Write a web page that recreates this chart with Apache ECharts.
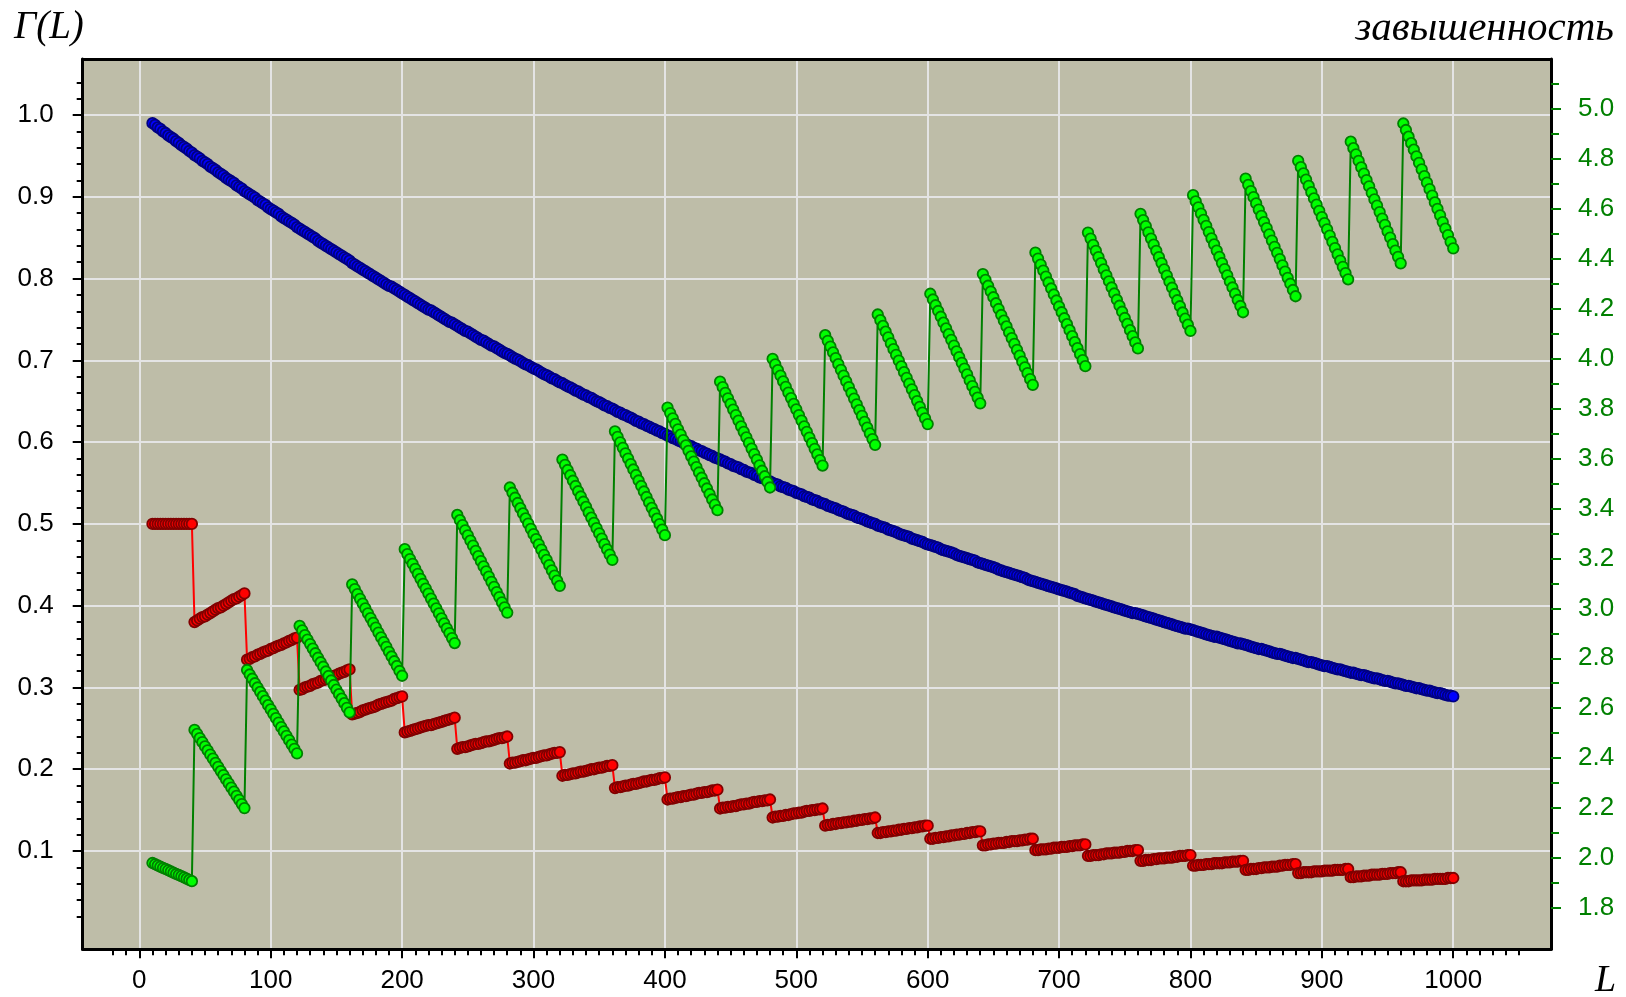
<!DOCTYPE html>
<html><head><meta charset="utf-8">
<script src="https://cdn.jsdelivr.net/npm/echarts@6/dist/echarts.min.js"></script>
<style>html,body{margin:0;padding:0;background:#fff}#c{width:1626px;height:997px}</style>
</head><body><div id="c"></div><script>
// L values (sample positions)
const L = [10,12,14,16,18,20,22,24,26,28,30,32,34,36,38,40,
42,44,46,48,50,52,54,56,58,60,62,64,66,68,70,72,74,76,78,80,
82,84,86,88,90,92,94,96,98,100,102,104,106,108,110,112,114,116,118,120,
122,124,126,128,130,132,134,136,138,140,142,144,146,148,150,152,154,156,158,160,
162,164,166,168,170,172,174,176,178,180,182,184,186,188,190,192,194,196,198,200,
202,204,206,208,210,212,214,216,218,220,222,224,226,228,230,232,234,236,238,240,
242,244,246,248,250,252,254,256,258,260,262,264,266,268,270,272,274,276,278,280,
282,284,286,288,290,292,294,296,298,300,302,304,306,308,310,312,314,316,318,320,
322,324,326,328,330,332,334,336,338,340,342,344,346,348,350,352,354,356,358,360,
362,364,366,368,370,372,374,376,378,380,382,384,386,388,390,392,394,396,398,400,
402,404,406,408,410,412,414,416,418,420,422,424,426,428,430,432,434,436,438,440,
442,444,446,448,450,452,454,456,458,460,462,464,466,468,470,472,474,476,478,480,
482,484,486,488,490,492,494,496,498,500,502,504,506,508,510,512,514,516,518,520,
522,524,526,528,530,532,534,536,538,540,542,544,546,548,550,552,554,556,558,560,
562,564,566,568,570,572,574,576,578,580,582,584,586,588,590,592,594,596,598,600,
602,604,606,608,610,612,614,616,618,620,622,624,626,628,630,632,634,636,638,640,
642,644,646,648,650,652,654,656,658,660,662,664,666,668,670,672,674,676,678,680,
682,684,686,688,690,692,694,696,698,700,702,704,706,708,710,712,714,716,718,720,
722,724,726,728,730,732,734,736,738,740,742,744,746,748,750,752,754,756,758,760,
762,764,766,768,770,772,774,776,778,780,782,784,786,788,790,792,794,796,798,800,
802,804,806,808,810,812,814,816,818,820,822,824,826,828,830,832,834,836,838,840,
842,844,846,848,850,852,854,856,858,860,862,864,866,868,870,872,874,876,878,880,
882,884,886,888,890,892,894,896,898,900,902,904,906,908,910,912,914,916,918,920,
922,924,926,928,930,932,934,936,938,940,942,944,946,948,950,952,954,956,958,960,
962,964,966,968,970,972,974,976,978,980,982,984,986,988,990,992,994,996,998,1000];

// Γ(L) - blue, left axis
const gammaL = [.990,.988,.985,.983,.980,.978,.975,.973,.971,.968,.966,.963,.961,.959,.956,.954,
.951,.949,.947,.944,.942,.940,.937,.935,.933,.930,.928,.926,.923,.921,.919,.917,.914,.912,.910,.907,
.905,.903,.901,.899,.896,.894,.892,.890,.887,.885,.883,.881,.879,.876,.874,.872,.870,.868,.866,.863,
.861,.859,.857,.855,.853,.851,.849,.846,.844,.842,.840,.838,.836,.834,.832,.830,.828,.826,.824,.822,
.819,.817,.815,.813,.811,.809,.807,.805,.803,.801,.799,.797,.795,.793,.791,.790,.788,.786,.784,.782,
.780,.778,.776,.774,.772,.770,.768,.766,.764,.762,.761,.759,.757,.755,.753,.751,.749,.747,.746,.744,
.742,.740,.738,.736,.735,.733,.731,.729,.727,.725,.724,.722,.720,.718,.717,.715,.713,.711,.709,.708,
.706,.704,.702,.701,.699,.697,.695,.694,.692,.690,.689,.687,.685,.683,.682,.680,.678,.677,.675,.673,
.672,.670,.668,.667,.665,.663,.662,.660,.658,.657,.655,.654,.652,.650,.649,.647,.645,.644,.642,.641,
.639,.637,.636,.634,.633,.631,.630,.628,.626,.625,.623,.622,.620,.619,.617,.616,.614,.613,.611,.610,
.608,.607,.605,.604,.602,.601,.599,.598,.596,.595,.593,.592,.590,.589,.587,.586,.584,.583,.581,.580,
.579,.577,.576,.574,.573,.571,.570,.569,.567,.566,.564,.563,.562,.560,.559,.557,.556,.555,.553,.552,
.550,.549,.548,.546,.545,.544,.542,.541,.540,.538,.537,.536,.534,.533,.532,.530,.529,.528,.526,.525,
.524,.522,.521,.520,.519,.517,.516,.515,.513,.512,.511,.510,.508,.507,.506,.505,.503,.502,.501,.500,
.498,.497,.496,.495,.493,.492,.491,.490,.488,.487,.486,.485,.484,.482,.481,.480,.479,.478,.476,.475,
.474,.473,.472,.471,.469,.468,.467,.466,.465,.464,.462,.461,.460,.459,.458,.457,.456,.455,.453,.452,
.451,.450,.449,.448,.447,.446,.444,.443,.442,.441,.440,.439,.438,.437,.436,.435,.434,.432,.431,.430,
.429,.428,.427,.426,.425,.424,.423,.422,.421,.420,.419,.418,.417,.416,.415,.414,.412,.411,.410,.409,
.408,.407,.406,.405,.404,.403,.402,.401,.400,.399,.398,.397,.396,.395,.394,.393,.392,.391,.391,.390,
.389,.388,.387,.386,.385,.384,.383,.382,.381,.380,.379,.378,.377,.376,.375,.374,.373,.372,.372,.371,
.370,.369,.368,.367,.366,.365,.364,.363,.362,.362,.361,.360,.359,.358,.357,.356,.355,.354,.354,.353,
.352,.351,.350,.349,.348,.347,.347,.346,.345,.344,.343,.342,.341,.341,.340,.339,.338,.337,.336,.336,
.335,.334,.333,.332,.331,.331,.330,.329,.328,.327,.326,.326,.325,.324,.323,.322,.322,.321,.320,.319,
.318,.318,.317,.316,.315,.315,.314,.313,.312,.311,.311,.310,.309,.308,.308,.307,.306,.305,.305,.304,
.303,.302,.302,.301,.300,.299,.299,.298,.297,.296,.296,.295,.294,.293,.293,.292,.291,.290,.290,.289];

// red series, left axis
const shareL = [.5,.5,.5,.5,.5,.5,.5,.5,.5,.5,.5,.5,.5,.5,.5,.5,
.380,.382,.384,.386,.387,.389,.391,.393,.395,.397,.398,.400,.402,.404,.406,.408,.409,.411,.413,.415,
.334,.335,.337,.338,.340,.341,.343,.344,.345,.347,.348,.350,.351,.352,.354,.355,.357,.358,.360,.361,
.297,.298,.300,.301,.302,.304,.305,.306,.308,.309,.310,.311,.313,.314,.315,.317,.318,.319,.321,.322,
.267,.268,.269,.270,.272,.273,.274,.275,.276,.277,.279,.280,.281,.282,.283,.284,.286,.287,.288,.289,
.245,.246,.247,.248,.249,.250,.251,.252,.253,.254,.254,.255,.256,.257,.258,.259,.260,.261,.262,.263,
.225,.226,.227,.227,.228,.229,.230,.231,.231,.232,.233,.234,.234,.235,.236,.237,.238,.238,.239,.240,
.207,.208,.208,.209,.210,.211,.211,.212,.213,.214,.214,.215,.216,.217,.217,.218,.219,.220,.220,.221,
.192,.193,.193,.194,.195,.195,.196,.197,.197,.198,.199,.200,.200,.201,.202,.202,.203,.204,.204,.205,
.177,.178,.178,.179,.180,.180,.181,.182,.182,.183,.184,.185,.185,.186,.187,.187,.188,.189,.189,.190,
.163,.164,.164,.165,.166,.166,.167,.167,.168,.169,.169,.170,.171,.171,.172,.172,.173,.174,.174,.175,
.152,.153,.153,.154,.154,.155,.155,.156,.157,.157,.158,.158,.159,.160,.160,.161,.161,.162,.162,.163,
.141,.142,.142,.143,.143,.144,.144,.145,.146,.146,.147,.147,.148,.149,.149,.150,.150,.151,.151,.152,
.131,.132,.132,.133,.133,.134,.134,.135,.135,.136,.136,.137,.137,.138,.138,.139,.139,.140,.140,.141,
.122,.122,.123,.123,.124,.124,.125,.125,.126,.126,.127,.127,.128,.128,.129,.129,.130,.130,.131,.131,
.115,.115,.116,.116,.117,.117,.118,.118,.119,.119,.120,.120,.121,.121,.122,.122,.123,.123,.124,.124,
.107,.107,.108,.108,.109,.109,.110,.110,.110,.111,.111,.112,.112,.112,.113,.113,.114,.114,.115,.115,
.101,.101,.102,.102,.102,.103,.103,.104,.104,.104,.105,.105,.105,.106,.106,.107,.107,.107,.108,.108,
.094,.094,.095,.095,.095,.096,.096,.097,.097,.097,.098,.098,.098,.099,.099,.100,.100,.100,.101,.101,
.088,.088,.089,.089,.089,.090,.090,.091,.091,.091,.092,.092,.092,.093,.093,.094,.094,.094,.095,.095,
.082,.082,.083,.083,.083,.084,.084,.084,.085,.085,.085,.085,.086,.086,.086,.087,.087,.087,.088,.088,
.077,.077,.078,.078,.078,.079,.079,.080,.080,.080,.081,.081,.081,.082,.082,.083,.083,.083,.084,.084,
.073,.073,.074,.074,.074,.074,.075,.075,.075,.075,.076,.076,.076,.076,.077,.077,.077,.077,.078,.078,
.068,.068,.069,.069,.069,.070,.070,.070,.071,.071,.071,.071,.072,.072,.072,.073,.073,.073,.074,.074,
.063,.063,.063,.064,.064,.064,.064,.064,.065,.065,.065,.065,.066,.066,.066,.066,.066,.067,.067,.067];

// завышенность - green, right axis
const overEst = [1.980,1.975,1.970,1.965,1.960,1.956,1.951,1.946,1.941,1.936,1.932,1.927,1.922,1.917,1.912,1.907,
2.513,2.497,2.480,2.464,2.447,2.431,2.414,2.398,2.381,2.365,2.348,2.332,2.315,2.299,2.282,2.266,2.249,2.233,2.216,2.200,
2.753,2.735,2.718,2.700,2.683,2.665,2.648,2.630,2.612,2.595,2.577,2.560,2.542,2.524,2.507,2.489,2.472,2.454,2.437,2.419,
2.930,2.912,2.893,2.875,2.857,2.839,2.820,2.802,2.784,2.766,2.747,2.729,2.711,2.693,2.674,2.656,2.638,2.620,2.601,2.583,
3.096,3.077,3.057,3.038,3.019,3.000,2.980,2.961,2.942,2.923,2.903,2.884,2.865,2.846,2.826,2.807,2.788,2.769,2.749,2.730,
3.237,3.217,3.197,3.178,3.158,3.138,3.118,3.098,3.079,3.059,3.039,3.019,3.000,2.980,2.960,2.940,2.920,2.901,2.881,2.861,
3.374,3.353,3.333,3.312,3.292,3.271,3.251,3.230,3.209,3.189,3.168,3.148,3.127,3.106,3.086,3.065,3.045,3.024,3.004,2.983,
3.484,3.463,3.443,3.422,3.401,3.380,3.360,3.339,3.318,3.297,3.277,3.256,3.235,3.214,3.194,3.173,3.152,3.131,3.111,3.090,
3.596,3.575,3.554,3.533,3.511,3.490,3.469,3.448,3.427,3.406,3.384,3.363,3.342,3.321,3.300,3.279,3.257,3.236,3.215,3.194,
3.709,3.687,3.665,3.643,3.621,3.600,3.578,3.556,3.534,3.512,3.490,3.468,3.446,3.424,3.402,3.381,3.359,3.337,3.315,3.293,
3.804,3.782,3.761,3.739,3.717,3.696,3.674,3.653,3.631,3.609,3.588,3.566,3.544,3.523,3.501,3.480,3.458,3.436,3.415,3.393,
3.908,3.886,3.863,3.841,3.819,3.796,3.774,3.752,3.729,3.707,3.685,3.663,3.640,3.618,3.596,3.573,3.551,3.529,3.506,3.484,
3.999,3.977,3.954,3.932,3.909,3.887,3.864,3.842,3.819,3.797,3.774,3.752,3.729,3.707,3.684,3.662,3.639,3.617,3.594,3.572,
4.094,4.071,4.048,4.025,4.002,3.978,3.955,3.932,3.909,3.886,3.863,3.840,3.817,3.794,3.771,3.747,3.724,3.701,3.678,3.655,
4.177,4.154,4.131,4.108,4.085,4.061,4.038,4.015,3.992,3.969,3.946,3.923,3.900,3.877,3.854,3.830,3.807,3.784,3.761,3.738,
4.260,4.237,4.214,4.191,4.168,4.144,4.121,4.098,4.075,4.052,4.029,4.006,3.983,3.960,3.937,3.913,3.890,3.867,3.844,3.821,
4.339,4.316,4.292,4.269,4.246,4.222,4.199,4.175,4.152,4.129,4.105,4.082,4.059,4.035,4.012,3.988,3.965,3.942,3.918,3.895,
4.425,4.401,4.377,4.353,4.329,4.305,4.281,4.257,4.233,4.209,4.186,4.162,4.138,4.114,4.090,4.066,4.042,4.018,3.994,3.970,
4.505,4.481,4.456,4.432,4.407,4.383,4.358,4.334,4.310,4.285,4.261,4.236,4.212,4.188,4.163,4.139,4.114,4.090,4.065,4.041,
4.580,4.555,4.531,4.506,4.481,4.457,4.432,4.407,4.383,4.358,4.333,4.308,4.284,4.259,4.234,4.210,4.185,4.160,4.136,4.111,
4.655,4.630,4.606,4.581,4.556,4.532,4.507,4.482,4.458,4.433,4.408,4.383,4.359,4.334,4.309,4.285,4.260,4.235,4.211,4.186,
4.721,4.696,4.671,4.647,4.622,4.597,4.572,4.547,4.523,4.498,4.473,4.448,4.424,4.399,4.374,4.349,4.324,4.300,4.275,4.250,
4.792,4.767,4.742,4.717,4.692,4.667,4.642,4.617,4.592,4.567,4.543,4.518,4.493,4.468,4.443,4.418,4.393,4.368,4.343,4.318,
4.869,4.843,4.818,4.792,4.766,4.741,4.715,4.690,4.664,4.638,4.613,4.587,4.561,4.536,4.510,4.485,4.459,4.433,4.408,4.382,
4.942,4.916,4.889,4.863,4.837,4.810,4.784,4.758,4.731,4.705,4.679,4.653,4.626,4.600,4.574,4.547,4.521,4.495,4.468,4.442];

// tick values
const xTickVals = [0,100,200,300,400,500,600,700,800,900,1000];
const xMinorVals = [-20,-10,0,10,20,30,40,50,60,70,80,90,100,110,120,130,140,150,160,170,180,190,200,
210,220,230,240,250,260,270,280,290,300,310,320,330,340,350,360,370,380,390,400,410,420,430,440,450,
460,470,480,490,500,510,520,530,540,550,560,570,580,590,600,610,620,630,640,650,660,670,680,690,700,
710,720,730,740,750,760,770,780,790,800,810,820,830,840,850,860,870,880,890,900,910,920,930,940,950,
960,970,980,990,1000,1010,1020,1030,1040,1050];
const yLeftTickVals = [0.1,0.2,0.3,0.4,0.5,0.6,0.7,0.8,0.9,1.0];
const yLeftMinorVals = [0.02,0.04,0.06,0.08,0.1,0.12,0.14,0.16,0.18,0.2,0.22,0.24,0.26,0.28,0.3,0.32,0.34,0.36,0.38,0.4,
0.42,0.44,0.46,0.48,0.5,0.52,0.54,0.56,0.58,0.6,0.62,0.64,0.66,0.68,0.7,0.72,0.74,0.76,0.78,0.8,0.82,0.84,0.86,0.88,0.9,
0.92,0.94,0.96,0.98,1.0,1.02,1.04];
const yRightTickVals = [1.8,2.0,2.2,2.4,2.6,2.8,3.0,3.2,3.4,3.6,3.8,4.0,4.2,4.4,4.6,4.8,5.0];
const yRightMinorVals = [1.8,1.9,2.0,2.1,2.2,2.3,2.4,2.5,2.6,2.7,2.8,2.9,3.0,3.1,3.2,3.3,3.4,3.5,3.6,3.7,3.8,3.9,4.0,
4.1,4.2,4.3,4.4,4.5,4.6,4.7,4.8,4.9,5.0,5.1];

const X_MIN = -43.1, X_MAX = 1074.4;
const YL_MIN = -0.0202, YL_MAX = 1.0685;
const YR_MIN = 1.6343, YR_MAX = 5.2003;
const FONT = 'Liberation Sans';
const GREEN_TXT = '#008000';
const LABEL_SIZE = 26;

function pts(vals){ return L.map((x,i)=>[x, vals[i]]); }
const off = {show:false};
const SYM = 10.5, BW = 1.8;

const option = {
  animation: false,
  backgroundColor: '#ffffff',
  grid: {left: 82.7, right: 75, top: 59, bottom: 47.7, show: true, backgroundColor: '#bebda8', borderWidth: 0},
  xAxis: [
    {type:'value', min:X_MIN, max:X_MAX, position:'bottom', splitNumber:11,
     axisLine:{show:true, onZero:false, lineStyle:{color:'#000', width:3}},
     axisTick:{show:true, customValues:xTickVals, length:9, lineStyle:{color:'#000', width:2}},
     axisLabel:{show:true, customValues:xTickVals, margin:19, color:'#000', fontSize:LABEL_SIZE, fontFamily:FONT,
                formatter:(v)=>String(Math.round(v))},
     splitLine:{show:true, lineStyle:{color:'#e4e4e4', width:2}}},
    {type:'value', min:X_MIN, max:X_MAX, position:'bottom',
     axisLine:{show:false, onZero:false},
     axisTick:{show:true, customValues:xMinorVals, length:6, lineStyle:{color:'#000', width:2}},
     axisLabel:off, splitLine:off},
    {type:'value', min:X_MIN, max:X_MAX, position:'top',
     axisLine:{show:true, onZero:false, lineStyle:{color:'#000', width:3}},
     axisTick:off, axisLabel:off, splitLine:off}
  ],
  yAxis: [
    {type:'value', min:YL_MIN, max:YL_MAX, position:'left', splitNumber:11,
     axisLine:{show:true, onZero:false, lineStyle:{color:'#000', width:3}},
     axisTick:{show:true, customValues:yLeftTickVals, length:10, lineStyle:{color:'#000', width:2}},
     axisLabel:{show:true, customValues:yLeftTickVals, margin:29, color:'#000', fontSize:LABEL_SIZE, fontFamily:FONT,
                formatter:(v)=>v.toFixed(1)},
     splitLine:{show:true, lineStyle:{color:'#e4e4e4', width:2}}},
    {type:'value', min:YL_MIN, max:YL_MAX, position:'left',
     axisLine:{show:false, onZero:false},
     axisTick:{show:true, customValues:yLeftMinorVals, length:6, lineStyle:{color:'#000', width:2}},
     axisLabel:off, splitLine:off},
    {type:'value', min:YR_MIN, max:YR_MAX, position:'right',
     axisLine:{show:true, onZero:false, lineStyle:{color:'#000', width:3}},
     axisTick:{show:true, customValues:yRightTickVals, length:10, lineStyle:{color:GREEN_TXT, width:2}},
     axisLabel:{show:true, customValues:yRightTickVals, margin:27, color:GREEN_TXT, fontSize:LABEL_SIZE, fontFamily:FONT,
                formatter:(v)=>v.toFixed(1)},
     splitLine:off},
    {type:'value', min:YR_MIN, max:YR_MAX, position:'right',
     axisLine:{show:false, onZero:false},
     axisTick:{show:true, customValues:yRightMinorVals, length:8, lineStyle:{color:GREEN_TXT, width:2}},
     axisLabel:off, splitLine:off}
  ],
  graphic: [
    {type:'text', left:14, top:8, silent:true,
     style:{text:'Γ(L)', font:'italic 39px "Liberation Serif"', fill:'#000'}},
    {type:'text', right:12, top:9, silent:true,
     style:{text:'завышенность', font:'italic 41px "Liberation Serif"', fill:'#000'}},
    {type:'text', left:1595, top:962, silent:true,
     style:{text:'L', font:'italic 38px "Liberation Serif"', fill:'#000'}}
  ],
  series: [
    {name:'Γ(L)', type:'line', xAxisIndex:0, yAxisIndex:0, data:pts(gammaL), symbol:'circle', symbolSize:SYM,
     itemStyle:{color:'#0000ff', borderColor:'#000080', borderWidth:BW},
     lineStyle:{color:'#000080', width:1.5}, silent:true, z:2},
    {name:'share', type:'line', xAxisIndex:0, yAxisIndex:0, data:pts(shareL), symbol:'circle', symbolSize:SYM,
     itemStyle:{color:'#ff0000', borderColor:'#800000', borderWidth:BW},
     lineStyle:{color:'#ff0000', width:2}, silent:true, z:3},
    {name:'завышенность', type:'line', xAxisIndex:0, yAxisIndex:2, data:pts(overEst), symbol:'circle', symbolSize:SYM,
     itemStyle:{color:'#00ff00', borderColor:'#008000', borderWidth:BW},
     lineStyle:{color:'#008000', width:2}, silent:true, z:4}
  ]
};
const chart = echarts.init(document.getElementById('c'));
chart.setOption(option);
</script></body></html>
